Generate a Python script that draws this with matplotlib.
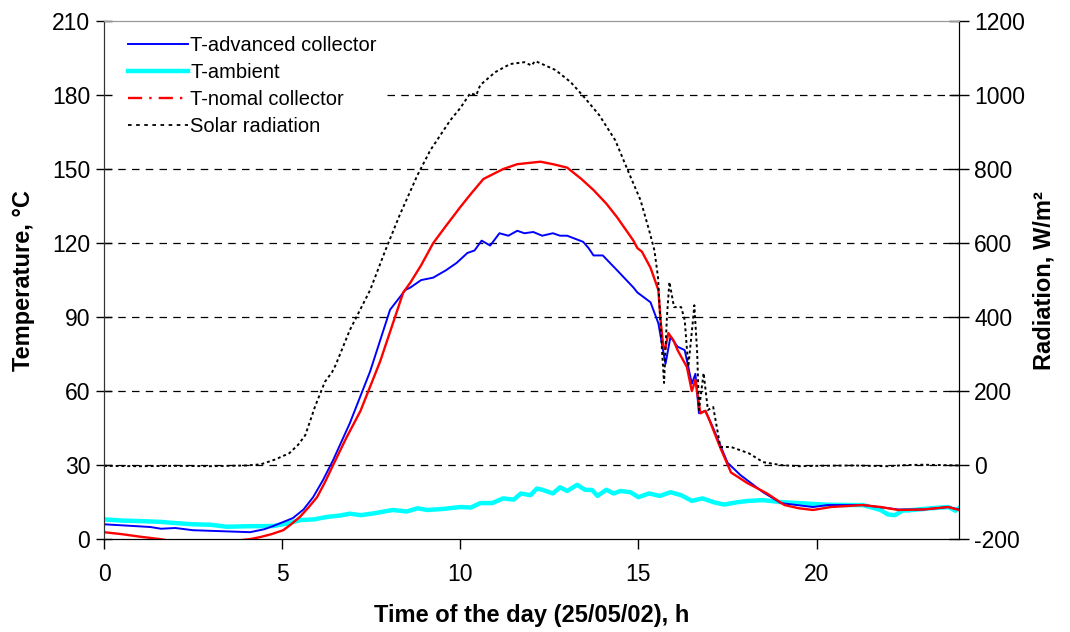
import matplotlib.pyplot as plt
from matplotlib.lines import Line2D
import numpy as np

plt.rcParams['font.family'] = ['Liberation Sans', 'DejaVu Sans']
plt.rcParams['axes.unicode_minus'] = False

# Solar radiation, W/m2
rad_t = [0, 1, 2, 3, 4, 4.4, 4.8, 5.2, 5.45, 5.65, 5.93, 6.2, 6.4, 6.5, 6.9, 7.47, 7.9, 8.3,
         8.8, 9.16, 9.72, 10.0, 10.28, 10.45, 10.56, 10.98, 11.4, 11.8, 12.0, 12.1, 12.25,
         12.67, 13.1, 13.5, 13.9, 14.35, 14.7, 15.06, 15.3, 15.45, 15.55, 15.65, 15.72, 15.8,
         15.87, 16.0, 16.2, 16.3, 16.4, 16.52, 16.57, 16.65, 16.7, 16.83, 16.95, 17.1, 17.3,
         17.6, 18.1, 18.5, 19, 19.5, 20, 21, 22, 22.5, 23, 23.5, 24]
rad_v = [-2, -3, -2, -3, -1, 2, 15, 32, 55, 81, 160, 225, 251, 270, 365, 473, 581, 676,
         784, 851, 932, 965, 1005, 1000, 1027, 1062, 1084, 1089, 1080, 1092, 1086,
         1068, 1035, 992, 946, 878, 797, 716, 635, 580, 508, 330, 222, 400,
         495, 427, 427, 392, 265, 380, 432, 303, 149, 249, 149, 157, 49,
         49, 32, 8, 0, -3, -2, -1, -3, 0, 1, 0, -1]

# T-nomal collector
red_t = [0, 0.5, 1.0, 1.57, 2, 3, 3.8, 4.1, 4.38, 4.7, 5.03, 5.25, 5.5, 5.75, 5.98, 6.2, 6.43,
         6.8, 7.2, 7.75, 8.4, 8.6, 8.9, 9.24, 9.6, 10.0, 10.3, 10.65, 11.2, 11.6, 12.25, 12.6,
         13.0, 13.4, 13.74, 14.1, 14.4, 14.86, 14.97, 15.1, 15.34, 15.56, 15.62, 15.7, 15.75,
         15.84, 15.98, 16.1, 16.36, 16.5, 16.6, 16.74, 16.88, 17.0, 17.3, 17.6, 18.06, 18.6,
         19.1, 19.5, 19.9, 20.4, 21.3, 21.8, 22.3, 23, 23.7, 24]
red_v = [2.8, 2.0, 1.0, 0, -1, -2, -0.5, 0, 0.8, 2, 3.6, 6, 9, 13, 17, 23, 30,
         41, 52, 72, 100, 104, 111, 120, 127, 134.6, 140, 146, 150, 152, 153, 152,
         150.6, 146, 141.5, 136, 130.5, 121, 118, 116.5, 110, 101, 89, 78, 77,
         83.5, 80.7, 76.6, 69.8, 60, 64.5, 51, 52, 48, 37, 27, 22.7, 18.6,
         13.8, 12.5, 11.8, 13, 13.8, 13, 11.8, 12, 13, 11.8]

# T-advanced collector
blue_t = [0, 0.6, 1.3, 1.6, 2, 2.5, 3.3, 4.1, 4.5, 4.75, 5.3, 5.6, 5.87, 6.15, 6.43, 6.9, 7.47,
          8.03, 8.46, 8.6, 8.9, 9.24, 9.6, 9.9, 10.2, 10.4, 10.6, 10.84, 11.1, 11.35, 11.6,
          11.8, 12.05, 12.3, 12.6, 12.8, 13, 13.45, 13.6, 13.74, 14.0, 14.4, 14.86, 14.97,
          15.34, 15.56, 15.76, 15.9, 16.1, 16.3, 16.5, 16.6, 16.7, 16.88, 17.1, 17.5, 17.86,
          18.5, 19.0, 19.9, 20.3, 21.3, 22.3, 23, 23.7, 24]
blue_v = [6, 5.5, 4.9, 4.2, 4.5, 3.6, 3.2, 2.8, 4, 5.3, 8.5, 12, 17, 24, 32, 47, 68,
          93, 101, 102, 105, 106, 109, 112, 116, 117, 121, 119, 124, 123, 125,
          124, 124.5, 123, 124, 123, 123, 120.5, 118, 115, 115, 109, 102, 100,
          96, 87.5, 71, 82, 78, 76.6, 63, 67, 51, 52, 45, 31, 26,
          19, 14.6, 13, 13.8, 13.8, 12, 12, 13, 12]

# T-ambient
cyan_t = [0, 0.5, 1.0, 1.57, 2.0, 2.5, 3.0, 3.45, 4.0, 4.75, 5.2, 5.5, 5.9, 6.26, 6.6, 6.9,
          7.2, 7.6, 8.1, 8.5, 8.8, 9.07, 9.5, 10, 10.3, 10.56, 10.9, 11.2, 11.5, 11.7, 11.97,
          12.15, 12.3, 12.6, 12.8, 13.0, 13.28, 13.5, 13.7, 13.85, 14.1, 14.3, 14.5, 14.78,
          15.0, 15.3, 15.6, 15.9, 16.2, 16.5, 16.8, 17.1, 17.4, 17.8, 18.1, 18.5, 19.0, 19.5,
          20.2, 20.9, 21.3, 21.8, 22.0, 22.2, 22.4, 22.7, 23.2, 23.7, 23.9, 24]
cyan_v = [8, 7.5, 7.3, 7, 6.5, 6, 5.8, 5, 5.2, 5.3, 6.5, 7.7, 8, 9, 9.5, 10.3,
          9.7, 10.5, 11.8, 11.2, 12.5, 11.8, 12.2, 13, 12.8, 14.6, 14.6, 16.5, 16, 18.5, 17.8,
          20.5, 20, 18.5, 21, 19.5, 22, 20, 19.9, 17.5, 20, 18.5, 19.5, 19,
          17, 18.5, 17.5, 19, 17.8, 15.5, 16.5, 15, 14, 15, 15.5, 15.8, 15, 14.6,
          14, 13.8, 13.8, 11.8, 10, 9.7, 11.5, 11.8, 12.5, 13, 11.5, 12.6]

fig = plt.figure(figsize=(10.7, 6.32), dpi=100)
ax = fig.add_axes([0.0972, 0.147, 0.7991, 0.8196])
ax2 = ax.twinx()

ax.plot(cyan_t, cyan_v, color='#00FFFF', lw=3.2, zorder=2)
ax.plot(blue_t, blue_v, color='#0000FF', lw=1.4, zorder=3)
ax.plot(red_t, red_v, color='#FF0000', lw=1.7, zorder=4)
ax2.plot(rad_t, rad_v, color='black', lw=1.4, ls=(0, (1.5, 1.5)))

ax.set_xlim(0, 24)
ax.set_ylim(0, 210)
ax2.set_ylim(-200, 1200)
ax.set_xticks([0, 5, 10, 15, 20])
ax.set_yticks(np.arange(0, 211, 30))
ax2.set_yticks(np.arange(-200, 1201, 200))
# dashed grid; the 180 line starts right of the legend
for y in range(30, 181, 30):
    start = 0.331 if y == 180 else 0
    ax.axhline(y, xmin=start, color='black', lw=0.9, ls=(0, (6, 5)), zorder=1)

ax.tick_params(axis='y', direction='inout', length=12, width=1, labelsize=16.5, pad=4)
ax.tick_params(axis='x', direction='out', length=7, width=1, labelsize=16.5, pad=10)
ax2.tick_params(axis='y', direction='inout', length=14, width=1, labelsize=16.5, pad=4)

for a in (ax, ax2):
    a.spines['top'].set_color('#999999')
    a.spines['left'].set_color('#333333')
    a.spines['right'].set_color('black')

ax.set_xlabel('Time of the day (25/05/02), h', fontsize=17, fontweight='bold', labelpad=13)
ax.set_ylabel('Temperature, °C', fontsize=17, fontweight='bold', labelpad=12)
ax2.set_ylabel('Radiation, W/m²', fontsize=17, fontweight='bold', labelpad=5)

handles = [Line2D([], [], color='#0000FF', lw=1.4),
           Line2D([], [], color='#00FFFF', lw=3.2),
           Line2D([], [], color='#FF0000', lw=1.7, ls=(0, (6, 3, 1, 3))),
           Line2D([], [], color='black', lw=1.3, ls=(0, (2, 2.5)))]
labels = ['T-advanced collector', 'T-ambient', 'T-nomal collector', 'Solar radiation']
ax2.legend(handles, labels, loc='upper left', bbox_to_anchor=(24 / 855, 1 - 15 / 518),
           borderaxespad=0, borderpad=0, fontsize=14.5, handlelength=3.0,
           handletextpad=0.1, labelspacing=0.4, frameon=False)

fig.savefig('out.png', dpi=100)
